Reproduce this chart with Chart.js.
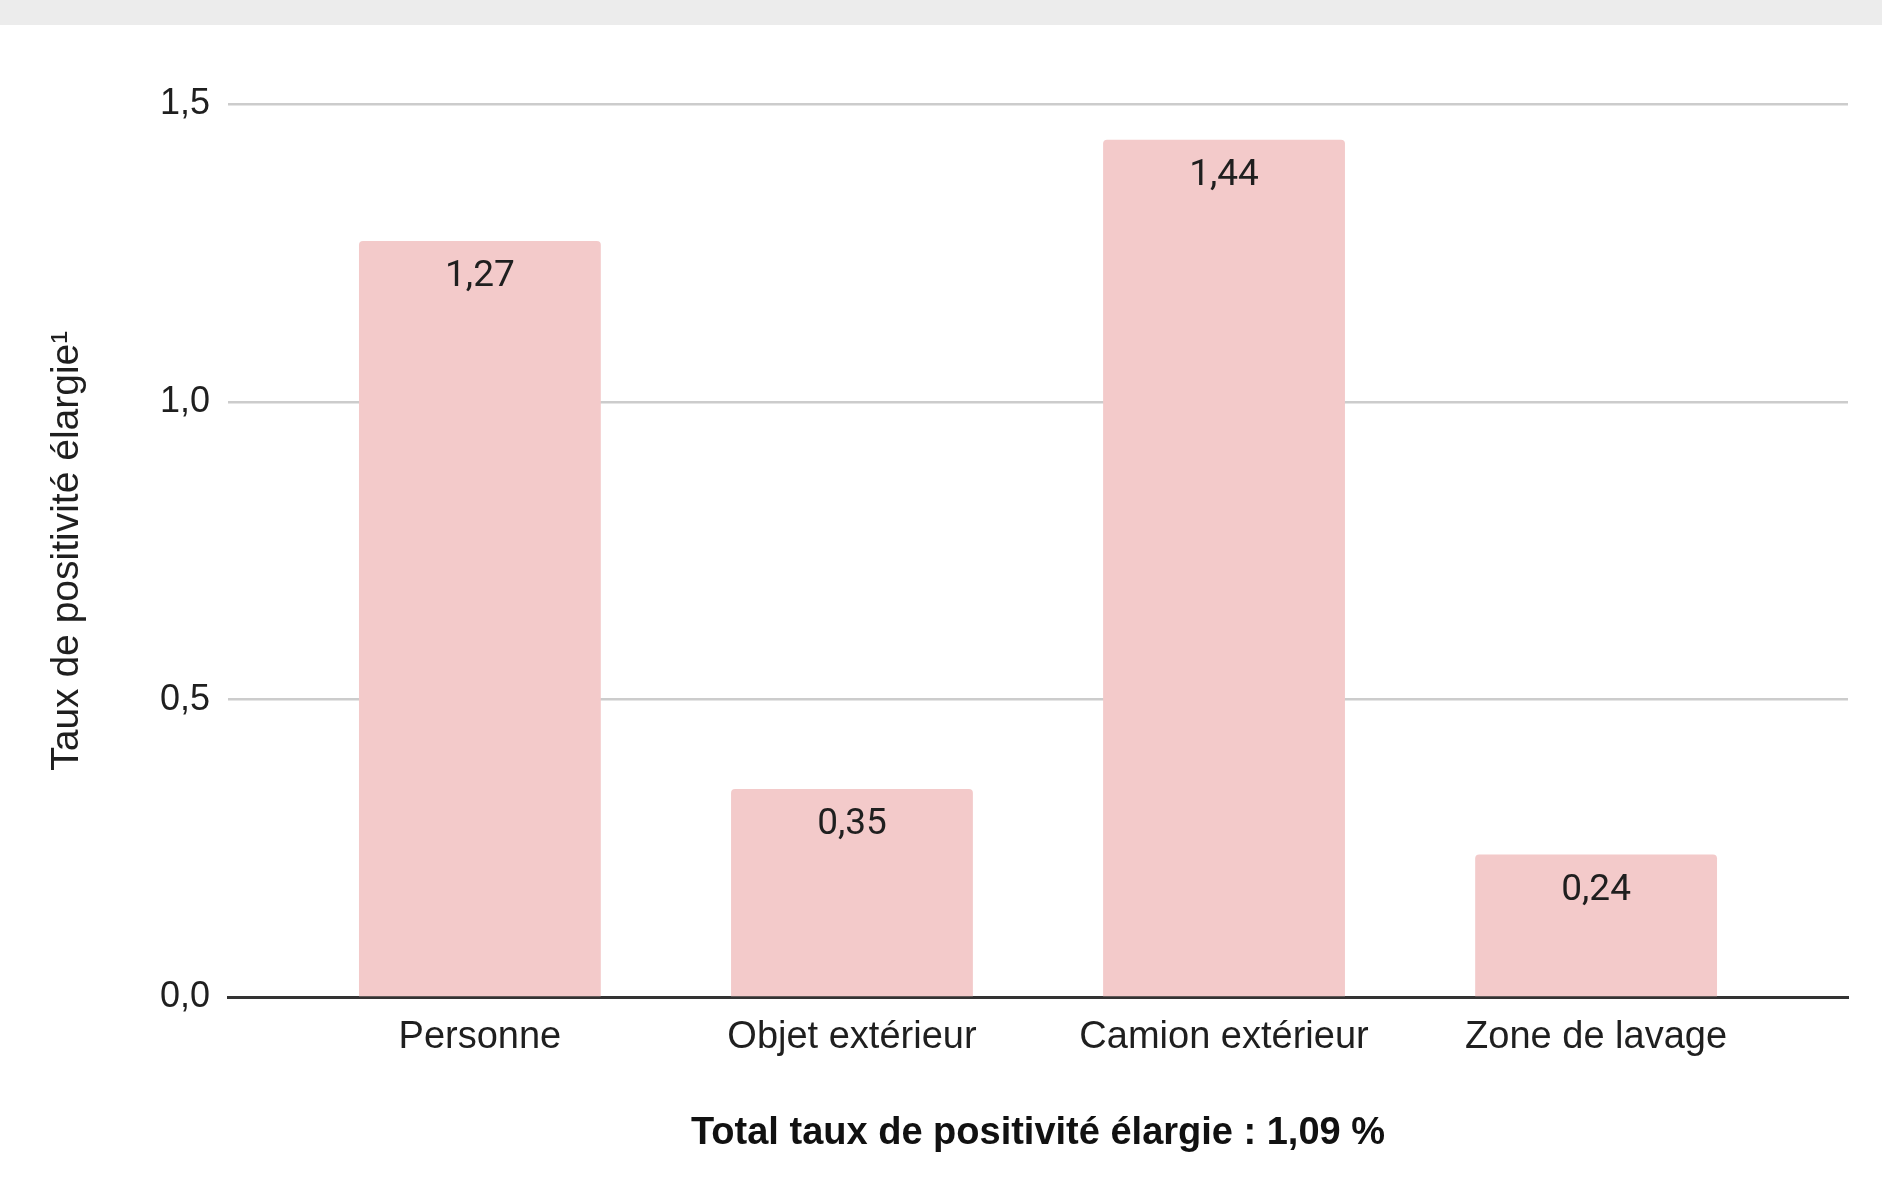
<!DOCTYPE html>
<html lang="fr">
<head>
<meta charset="utf-8">
<title>Taux de positivité élargie</title>
<script src="https://cdn.jsdelivr.net/npm/chart.js@4/dist/chart.umd.min.js"></script>
<style>
  html, body { margin: 0; padding: 0; background: #ffffff; }
  #band { height: 25px; background: #ececec; }
  #wrap { width: 1882px; height: 1156px; }
  canvas { display: block; }
</style>
</head>
<body>
<div id="band"></div>
<div id="wrap"><canvas id="chart" width="1882" height="1156"></canvas></div>
<script>
// Positivity rate by sampling location
const categories = ['Personne', 'Objet extérieur', 'Camion extérieur', 'Zone de lavage'];
const rates = [1.27, 0.35, 1.44, 0.24];
const yTicks = [0, 0.5, 1.0, 1.5];
const yTitle = 'Taux de positivité élargie\u00B9';
const totalLabel = 'Total taux de positivité élargie : 1,09 %';

const SANS = "'Liberation Sans', Arial, sans-serif";
const frNum = (v, d) => v.toFixed(d).replace('.', ',');

// Writes each bar's value just below its top edge
const valueLabels = {
  id: 'valueLabels',
  afterDatasetsDraw(chart) {
    const ctx = chart.ctx;
    const meta = chart.getDatasetMeta(0);
    ctx.save();
    ctx.font = "37px Roboto, 'Liberation Sans', sans-serif";
    ctx.fillStyle = '#1f1f1f';
    ctx.textAlign = 'center';
    ctx.textBaseline = 'middle';
    meta.data.forEach((bar, i) => {
      ctx.fillText(frNum(rates[i], 2), bar.x, bar.y + 36);
    });
    ctx.restore();
  }
};

new Chart(document.getElementById('chart'), {
  type: 'bar',
  data: {
    datasets: [{
      data: rates.map((v, i) => ({ x: i, y: v })),
      backgroundColor: '#f3caca',
      borderWidth: 0,
      borderRadius: { topLeft: 4, topRight: 4, bottomLeft: 0, bottomRight: 0 },
      borderSkipped: 'bottom',
      barPercentage: 0.65,
      categoryPercentage: 1.0
    }]
  },
  options: {
    responsive: false,
    devicePixelRatio: 1,
    animation: false,
    layout: { padding: { top: 79, right: 34, bottom: 0, left: 0 } },
    plugins: {
      legend: { display: false },
      tooltip: { enabled: false }
    },
    scales: {
      x: {
        type: 'linear',
        offset: false,
        min: -0.677,
        max: 3.677,
        afterBuildTicks(scale) {
          scale.ticks = categories.map((_, i) => ({ value: i }));
        },
        afterFit(scale) { scale.height = 183.5; },
        grid: { display: false, drawTicks: false, offset: false },
        border: { display: true, color: '#333333', width: 3 },
        ticks: {
          padding: 17,
          autoSkip: false,
          maxRotation: 0,
          color: '#1f1f1f',
          font: { family: SANS, size: 38 },
          callback: (v) => categories[v] ?? ''
        },
        title: {
          display: true,
          text: totalLabel,
          color: '#111111',
          font: { family: SANS, size: 38, weight: 'bold' },
          padding: { top: 0, bottom: 25 }
        }
      },
      y: {
        min: 0,
        max: 1.5,
        afterBuildTicks(scale) {
          scale.ticks = yTicks.map(v => ({ value: v }));
        },
        afterFit(scale) { scale.width = 228; },
        grid: {
          drawTicks: false,
          color: (c) => c.tick && c.tick.value === 0 ? 'rgba(0,0,0,0)' : '#cccccc',
          lineWidth: 2.5
        },
        border: { display: false },
        ticks: {
          padding: 18,
          color: '#1f1f1f',
          font: { family: SANS, size: 36 },
          callback: (v) => frNum(v, 1)
        },
        title: {
          display: true,
          text: yTitle,
          color: '#1f1f1f',
          font: { family: SANS, size: 39 },
          padding: { top: 44, bottom: 0 }
        }
      }
    }
  },
  plugins: [valueLabels]
});
</script>
</body>
</html>
